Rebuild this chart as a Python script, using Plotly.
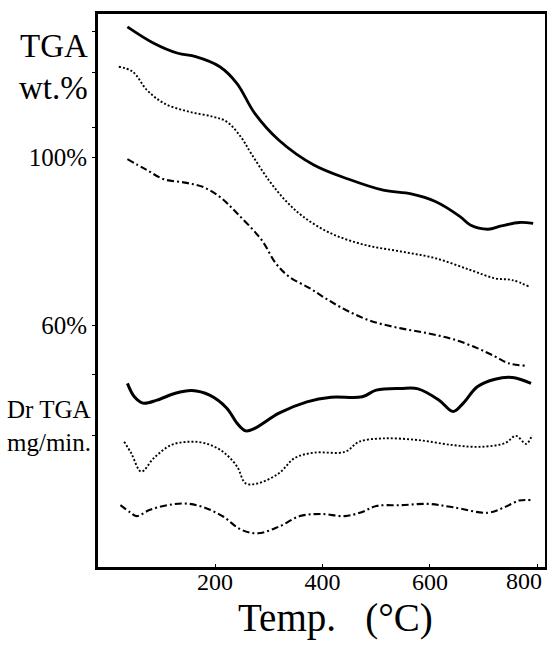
import plotly.graph_objects as go

# ---- data (x: temperature in degC, y: plot units, % scale) ----
tga_solid_t = [37, 86, 131, 164, 209, 241, 274, 319, 384, 449, 513, 565, 610, 656, 675, 708, 733, 766, 792]
tga_solid_w = [131.0, 127.1, 124.7, 123.9, 121.5, 117.5, 110.4, 104.0, 98.1, 94.7, 92.1, 91.2, 89.4, 85.8, 83.8, 82.8, 83.6, 84.4, 84.2]

tga_dot_t = [21, 47, 73, 105, 151, 196, 222, 248, 267, 300, 330, 364, 416, 481, 546, 610, 675, 721, 753, 785]
tga_dot_w = [121.5, 120.3, 116.0, 112.8, 110.8, 109.6, 108.4, 104.8, 100.9, 94.5, 89.8, 85.8, 81.8, 79.0, 77.5, 75.9, 73.1, 71.1, 70.7, 69.1]

tga_dd_t = [37, 73, 105, 144, 177, 209, 241, 287, 313, 338, 377, 410, 449, 494, 546, 597, 643, 688, 721, 746, 779]
tga_dd_w = [99.5, 96.9, 94.7, 93.9, 92.9, 90.5, 86.6, 80.2, 74.7, 71.5, 68.7, 66.0, 63.2, 60.8, 59.2, 58.0, 56.6, 54.5, 52.5, 50.9, 50.3]

dtg_solid_t = [37, 50, 66, 92, 125, 157, 190, 222, 241, 257, 274, 319, 371, 416, 474, 500, 546, 578, 617, 643, 662, 688, 721, 753, 788]
dtg_solid_v = [46.1, 42.9, 41.4, 42.1, 43.7, 44.4, 43.3, 40.2, 36.6, 34.8, 35.4, 39.0, 41.7, 42.8, 42.9, 44.5, 44.9, 44.8, 42.1, 39.4, 41.4, 45.3, 47.1, 47.5, 46.1]

dtg_dot_t = [31, 44, 63, 86, 118, 151, 183, 215, 241, 257, 280, 319, 348, 384, 442, 468, 513, 578, 643, 695, 740, 760, 779, 790]
dtg_dot_v = [32.2, 29.5, 25.1, 28.3, 31.4, 32.2, 31.8, 29.8, 26.3, 22.3, 22.3, 24.7, 28.3, 29.6, 29.8, 32.2, 33.0, 32.6, 31.4, 31.0, 31.9, 33.6, 31.7, 33.8]

dtg_dd_t = [24, 41, 54, 79, 112, 144, 177, 215, 248, 280, 319, 358, 397, 442, 474, 500, 546, 597, 643, 708, 740, 766, 788]
dtg_dd_v = [17.1, 15.5, 14.5, 16.0, 17.1, 17.5, 16.7, 14.4, 11.3, 10.4, 12.0, 14.5, 15.0, 14.5, 15.5, 16.9, 17.1, 17.4, 16.6, 15.3, 16.7, 18.2, 18.3]

x_ticks = [200, 400, 600, 800]
x_ticktext = ["200", "400", "600", ""]
last_x_tick_label = "800"   # drawn as an annotation so it stays inside the page
y_ticks = [129.8, 120.2, 107.1, 100, 60, 48.1, 33.8]
y_ticktext = ["", "", "", "100%", "60%", "", ""]

SERIF = "Liberation Serif, Times New Roman, serif"
DOT = "2px,2px"
DASHDOT = "7px,3px,2px,3px"

fig = go.Figure()

def add(x, y, dash, width):
    fig.add_trace(go.Scatter(
        x=x, y=y, mode="lines",
        line=dict(color="black", width=width, dash=dash, shape="spline", smoothing=1.0),
        showlegend=False, hoverinfo="skip"))

add(tga_solid_t, tga_solid_w, "solid", 2.8)
add(tga_dot_t, tga_dot_w, DOT, 1.9)
add(tga_dd_t, tga_dd_w, DASHDOT, 2.1)
add(dtg_solid_t, dtg_solid_v, "solid", 3.0)
add(dtg_dot_t, dtg_dot_v, DOT, 1.9)
add(dtg_dd_t, dtg_dd_v, DASHDOT, 2.1)

fig.update_layout(
    width=547, height=646,
    margin=dict(l=98, r=2, t=14, b=79),
    paper_bgcolor="white", plot_bgcolor="white",
    font=dict(family=SERIF, color="black"),
    xaxis=dict(
        range=[-17.7, 814], showgrid=False, zeroline=False, automargin=False,
        showline=True, mirror=True, linecolor="black", linewidth=3,
        tickvals=x_ticks, ticktext=x_ticktext,
        ticks="inside", ticklen=3, tickwidth=1, tickcolor="black",
        ticklabelstandoff=-9,
        tickfont=dict(family=SERIF, size=24, color="black"),
    ),
    yaxis=dict(
        range=[2.38, 134.05], showgrid=False, zeroline=False, automargin=False,
        showline=True, mirror=True, linecolor="black", linewidth=3,
        tickvals=y_ticks, ticktext=y_ticktext,
        ticks="outside", ticklen=3, tickwidth=1, tickcolor="black",
        tickfont=dict(family=SERIF, size=25, color="black"),
    ),
    annotations=[
        dict(text=last_x_tick_label, xref="x", yref="paper", x=x_ticks[-1], y=0, xanchor="right", yanchor="middle",
             xshift=7, yshift=-14, showarrow=False, font=dict(family=SERIF, size=24)),
        dict(text="TGA", xref="paper", yref="paper", x=-0.018, y=0.942, xanchor="right", yanchor="middle",
             showarrow=False, font=dict(family=SERIF, size=33)),
        dict(text="wt.%", xref="paper", yref="paper", x=-0.018, y=0.866, xanchor="right", yanchor="middle",
             showarrow=False, font=dict(family=SERIF, size=33)),
        dict(text="Dr TGA", xref="paper", yref="paper", x=-0.012, y=0.285, xanchor="right", yanchor="middle",
             showarrow=False, font=dict(family=SERIF, size=25)),
        dict(text="mg/min.", xref="paper", yref="paper", x=-0.012, y=0.225, xanchor="right", yanchor="middle",
             showarrow=False, font=dict(family=SERIF, size=25)),
        dict(text="Temp.\u00a0\u00a0\u00a0(°C)", xref="x", yref="paper", x=425, y=0, xanchor="center", yanchor="middle",
             yshift=-51, showarrow=False, font=dict(family=SERIF, size=39)),
    ],
)

fig.write_html("out.html")
